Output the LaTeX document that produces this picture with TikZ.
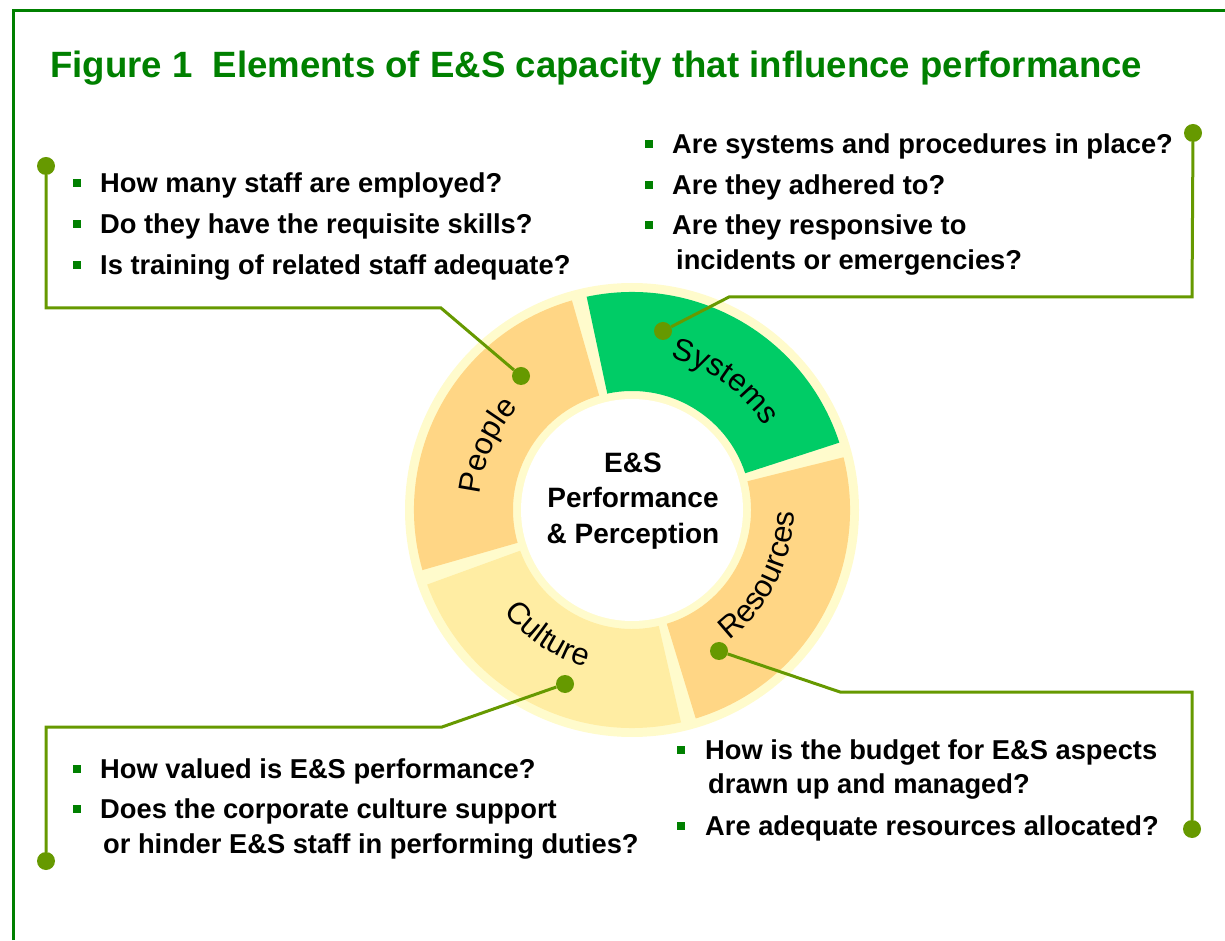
\documentclass[tikz,border=0pt]{standalone}
\usepackage{fontspec}
\setmainfont{Liberation Sans}
\usetikzlibrary{decorations.text}
\definecolor{frameg}{HTML}{008000}
\definecolor{olivec}{HTML}{669900}
\definecolor{palec}{HTML}{FFFBCC}
\definecolor{peachc}{HTML}{FFD685}
\definecolor{lightyel}{HTML}{FFEDA3}
\definecolor{sysg}{HTML}{00CC66}
\tikzset{
  conn/.style={draw=olivec, line width=3pt, line join=miter},
  dotnode/.style={circle, fill=olivec, inner sep=0pt, minimum size=18pt},
  qtext/.style={anchor=base west, inner sep=0pt, font=\bfseries\fontsize{27.3}{32}\selectfont},
  bul/.style={fill=frameg, minimum size=8pt, inner sep=0pt},
  segtext/.style={decorate, decoration={text along path, text align=center}}
}
\begin{document}
\begin{tikzpicture}[x=1pt,y=1pt]
\useasboundingbox (0,0) rectangle (1225,940);
% frame
\coordinate (fbl) at (13,0);
\coordinate (ftl) at (13,929);
\coordinate (ftr) at (1225,929);
\draw[frameg, line width=3pt] (fbl) -- (ftl) -- (ftr);
% title
\node[anchor=base west, inner sep=0pt, text=frameg, font=\bfseries\fontsize{36.6}{42}\selectfont] (title) at (50,862) {Figure 1\hspace{0.55em}Elements of E\&S capacity that influence performance};

% ring
\coordinate (C) at (632,430);
\fill[palec] (C) circle (227);
\fill[white] (C) circle (111);
\fill[sysg] ([shift={(18:218)}]C) arc[start angle=18, end angle=102, radius=218] -- ([shift={(102:119)}]C) arc[start angle=102, end angle=18, radius=119] -- cycle;
\fill[peachc] ([shift={(106:218)}]C) arc[start angle=106, end angle=196, radius=218] -- ([shift={(196:119)}]C) arc[start angle=196, end angle=106, radius=119] -- cycle;
\fill[lightyel] ([shift={(200:218)}]C) arc[start angle=200, end angle=283, radius=218] -- ([shift={(283:119)}]C) arc[start angle=283, end angle=200, radius=119] -- cycle;
\fill[peachc] ([shift={(287:218)}]C) arc[start angle=287, end angle=374, radius=218] -- ([shift={(374:119)}]C) arc[start angle=374, end angle=287, radius=119] -- cycle;

% segment labels
\path[segtext, decoration={text={|\fontsize{31}{31}\selectfont|Systems}}] ([shift={(94:157)}]C) arc[start angle=94, end angle=14, radius=157];
\path[segtext, decoration={text={|\fontsize{31}{31}\selectfont|People}}] ([shift={(196:153)}]C) arc[start angle=196, end angle=116, radius=153];
\path[segtext, decoration={text={|\fontsize{31}{31}\selectfont|Culture}}] ([shift={(196:164)}]C) arc[start angle=196, end angle=276, radius=164];
\path[segtext, decoration={text={|\fontsize{31}{31}\selectfont|Resources}}] ([shift={(-67:162)}]C) arc[start angle=-67, end angle=13, radius=162];

% centre text
\node[align=center, inner sep=0pt, font=\bfseries\fontsize{28}{35.5}\selectfont] (centre) at (633,439) {E\&S\\Performance\\\& Perception};

% connectors
\node[dotnode] (pd1) at (46,774) {};
\node[dotnode] (pd2) at (521,564) {};
\coordinate (pc1) at (46,632);
\coordinate (pc2) at (441,632);
\draw[conn] (pd1) -- (pc1) -- (pc2) -- (pd2);

\node[dotnode] (sd1) at (1193,807) {};
\node[dotnode] (sd2) at (663,609) {};
\coordinate (sc1) at (1192,643);
\coordinate (sc2) at (729,643);
\draw[conn] (sd1) -- (sc1) -- (sc2) -- (sd2);

\node[dotnode] (cd1) at (46,79) {};
\node[dotnode] (cd2) at (565,256) {};
\coordinate (cc1) at (46,213);
\coordinate (cc2) at (442,213);
\draw[conn] (cd1) -- (cc1) -- (cc2) -- (cd2);

\node[dotnode] (rd1) at (1192,111) {};
\node[dotnode] (rd2) at (719,289) {};
\coordinate (rc1) at (1192,248);
\coordinate (rc2) at (840,248);
\draw[conn] (rd1) -- (rc1) -- (rc2) -- (rd2);

% People questions
\node[bul] (pb1) at (76.5,756.5) {};
\node[qtext] (pq1) at (100,747) {How many staff are employed?};
\node[bul] (pb2) at (76.5,715.5) {};
\node[qtext] (pq2) at (100,706) {Do they have the requisite skills?};
\node[bul] (pb3) at (76.5,674.5) {};
\node[qtext] (pq3) at (100,665) {Is training of related staff adequate?};

% Systems questions
\node[bul] (sb1) at (649,795.5) {};
\node[qtext] (sq1) at (672,786) {Are systems and procedures in place?};
\node[bul] (sb2) at (649,754.5) {};
\node[qtext] (sq2) at (672,745) {Are they adhered to?};
\node[bul] (sb3) at (649,714.5) {};
\node[qtext] (sq3) at (672,705) {Are they responsive to};
\node[qtext] (sq4) at (676,670) {incidents or emergencies?};

% Culture questions
\node[bul] (cb1) at (76.5,171.5) {};
\node[qtext] (cq1) at (100,162) {How valued is E\&S performance?};
\node[bul] (cb2) at (76.5,131.5) {};
\node[qtext] (cq2) at (100,122) {Does the corporate culture support};
\node[qtext] (cq3) at (103,87) {or hinder E\&S staff in performing duties?};

% Resources questions
\node[bul] (rb1) at (681,190.5) {};
\node[qtext] (rq1) at (705,181) {How is the budget for E\&S aspects};
\node[qtext] (rq2) at (708,147) {drawn up and managed?};
\node[bul] (rb2) at (681,114.5) {};
\node[qtext] (rq3) at (705,105) {Are adequate resources allocated?};
\end{tikzpicture}
\end{document}
